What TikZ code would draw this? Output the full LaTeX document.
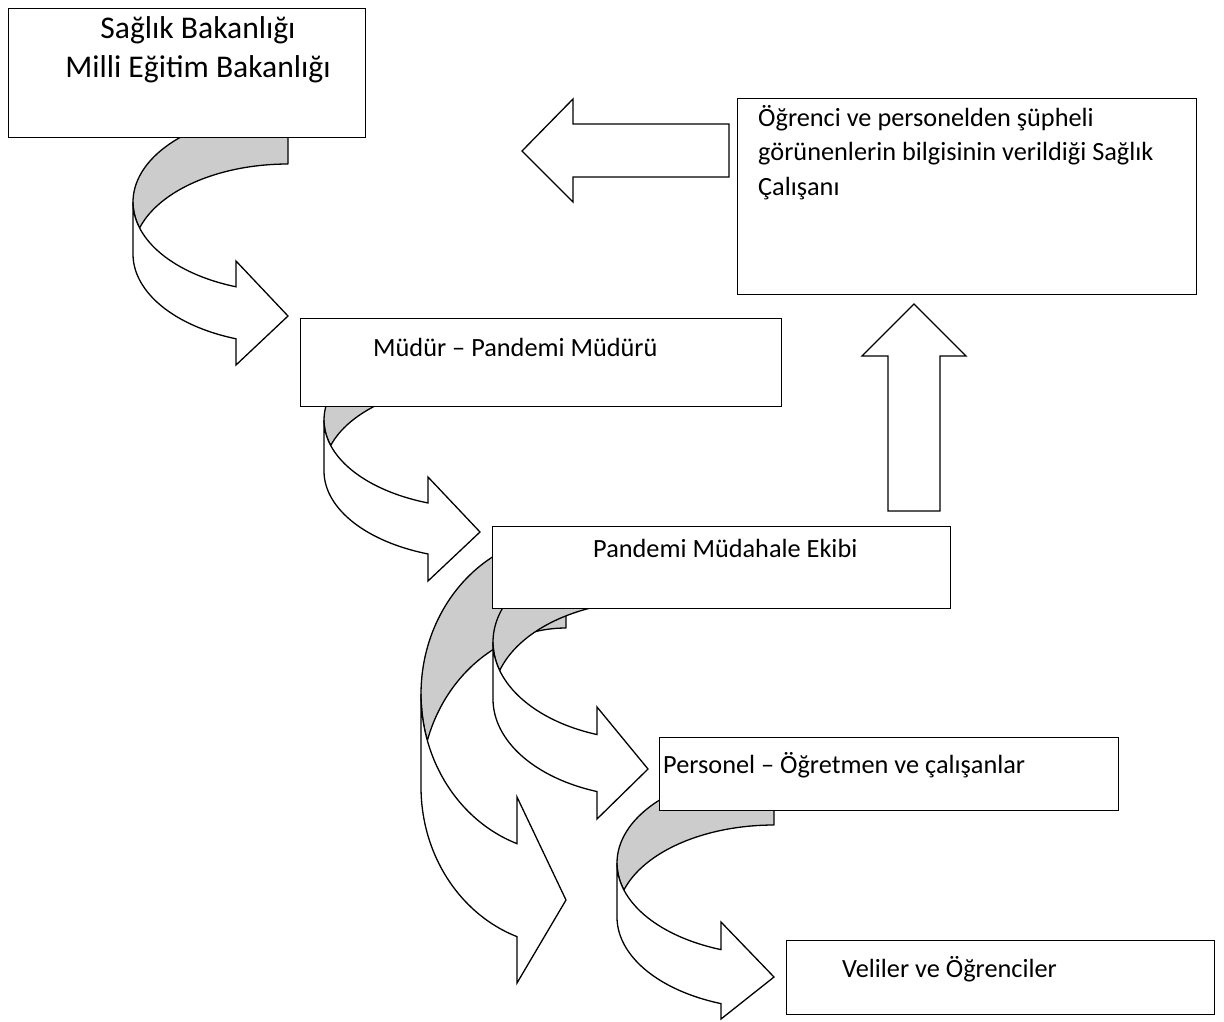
\documentclass[tikz,border=0pt]{standalone}
\usepackage{fontspec}
\setmainfont{Carlito}
\definecolor{bandgray}{HTML}{CCCCCC}
\tikzset{
  box/.style={draw=black, line width=1.4pt, fill=white, rectangle, inner sep=0pt, anchor=north west},
  lbl/.style={inner sep=0pt, anchor=base west, font=\fontsize{26.3}{34.5}\selectfont},
  backband/.style={draw=black, line width=1.3pt, fill=bandgray, line join=round},
  frontband/.style={draw=black, line width=1.3pt, fill=white, line join=miter},
  blockarrow/.style={draw=black, line width=1.3pt, fill=white, line join=miter},
}
% r c a b th x1 barbTop tip barbBot
\newcommand\CurvArr[9]{%
  \pgfmathsetmacro\caR{#1}%
  \pgfmathsetmacro\caC{#2}%
  \pgfmathsetmacro\caA{#3}%
  \pgfmathsetmacro\caB{#4}%
  \pgfmathsetmacro\caT{#5}%
  \pgfmathsetmacro\caX{#6}%
  \pgfmathsetmacro\caAl{asin(\caT/(2*\caB))}%
  \pgfmathsetmacro\caPa{180-\caAl}%
  \pgfmathsetmacro\caPb{180+\caAl}%
  \pgfmathsetmacro\caTb{acos((\caX-\caR)/\caA)}%
  \pgfmathsetmacro\caD{\caC+\caT}%
  \draw[backband] plot[domain=270:\caPa,samples=60] ({\caR+\caA*cos(\x)},{\caC+\caB*sin(\x)})
     -- plot[domain=\caPb:270,samples=60] ({\caR+\caA*cos(\x)},{\caD+\caB*sin(\x)}) -- cycle;
  \draw[frontband] plot[domain=180:\caTb,samples=60] ({\caR+\caA*cos(\x)},{\caC+\caB*sin(\x)})
     -- (\caX,#7) -- (\caR,#8) -- (\caX,#9)
     -- plot[domain=\caTb:180,samples=60] ({\caR+\caA*cos(\x)},{\caD+\caB*sin(\x)}) -- cycle;
}
\begin{document}
\begin{tikzpicture}[x=1pt,y=-1pt]
\useasboundingbox (0,0) rectangle (1224,1021);
% curved arrows
\CurvArr{288}{202}{155}{90}{52}{236}{261}{316}{365}
\CurvArr{480}{420}{156}{88}{51}{428}{477}{532}{581}
\CurvArr{566}{694}{145}{159}{93}{517}{797}{900}{983}
\CurvArr{648}{642}{155}{98}{57}{597}{707}{769}{819}
\CurvArr{774}{863}{157}{92}{54}{721}{922}{977}{1019}
% block arrows
\draw[blockarrow] (729,124) -- (573,124) -- (573,99) -- (522,151) -- (573,202) -- (573,177) -- (729,177) -- cycle;
\draw[blockarrow] (888,511) -- (888,356) -- (862,356) -- (914,304) -- (966,356) -- (940,356) -- (940,511) -- cycle;
% boxes
\node[box, minimum width=357pt, minimum height=129pt] (b1) at (8,8) {};
\node[box, minimum width=459pt, minimum height=196pt] (b2) at (737,98) {};
\node[box, minimum width=481pt, minimum height=88pt] (b3) at (300,318) {};
\node[box, minimum width=458pt, minimum height=82pt] (b4) at (492,526) {};
\node[box, minimum width=459pt, minimum height=73pt] (b5) at (659,737) {};
\node[box, minimum width=428pt, minimum height=74pt] (b6) at (786,940) {};
% texts (multi-line nodes: base = last line's baseline)
\node[inner sep=0pt, anchor=base, align=center, font=\fontsize{31.6}{39}\selectfont] (t1) at (198,77.5) {Sağlık Bakanlığı\\Milli Eğitim Bakanlığı};
\node[lbl, align=left] (t2) at (758,195) {Öğrenci ve personelden şüpheli\\görünenlerin bilgisinin verildiği Sağlık\\Çalışanı};
\node[lbl] (t3) at (373,356) {Müdür – Pandemi Müdürü};
\node[lbl] (t4) at (593,557) {Pandemi Müdahale Ekibi};
\node[lbl] (t5) at (663,773) {Personel – Öğretmen ve çalışanlar};
\node[lbl] (t6) at (842,977) {Veliler ve Öğrenciler};
\end{tikzpicture}
\end{document}
